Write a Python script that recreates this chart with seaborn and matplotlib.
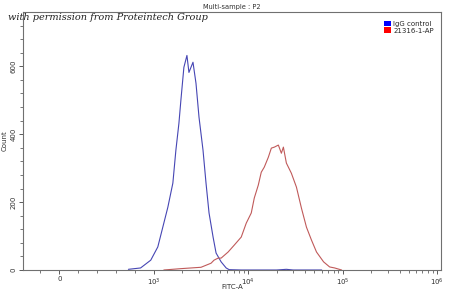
import matplotlib
matplotlib.use("Agg")
import matplotlib.pyplot as plt
from matplotlib.patches import Patch
from matplotlib.ticker import FixedLocator
import seaborn as sns
import pandas as pd

# ---- data ----
igg_fitc = [731, 860, 968, 1103, 1277, 1409, 1592, 1714, 1845, 1936, 2083, 2244,
            2356, 2600, 2798, 3012, 3321, 3573, 3846, 4245, 4566, 5164, 5838,
            6281, 8433, 20000, 25350, 30000, 60000]
igg_count = [2, 6, 29, 68, 138, 185, 256, 353, 432, 500, 597, 632,
             582, 612, 550, 450, 353, 256, 168, 97, 50, 24, 6,
             1, 0, 0, 2, 0, 0]

ab_fitc = [1277, 1936, 3162, 4038, 4345, 4797, 5164, 6124, 7096, 8433, 9530,
           10770, 11590, 12780, 13740, 14790, 16320, 17570, 18920, 20850,
           22440, 23570, 25350, 28640, 32410, 36620, 41380, 46770, 52850,
           62800, 72780, 82270, 97500]
ab_count = [0, 4, 8, 20, 29, 35, 35, 53, 73, 97, 138,
            168, 212, 250, 288, 303, 332, 359, 362, 368,
            344, 362, 315, 285, 244, 182, 126, 88, 53,
            24, 9, 6, 0]

series_names = ["IgG control", "21316-1-AP"]
x_major = [0, 1e3, 1e4, 1e5, 1e6]
x_major_labels = ["0", "10$^3$", "10$^4$", "10$^5$", "10$^6$"]
y_major = [0, 200, 400, 600]

sns.set_style("white")
plt.rcParams['font.family'] = ['DejaVu Sans']
plt.rcParams['mathtext.fontset'] = 'dejavusans'

fig = plt.figure(figsize=(4.5, 2.92), dpi=100)
ax = fig.add_axes([23/450, 22/292, (441-23)/450, (270-12)/292])

df1 = pd.DataFrame({"FITC-A": igg_fitc, "Count": igg_count})
df2 = pd.DataFrame({"FITC-A": ab_fitc, "Count": ab_count})
sns.lineplot(data=df1, x="FITC-A", y="Count", ax=ax, color="#4646b4", linewidth=0.8, sort=False)
sns.lineplot(data=df2, x="FITC-A", y="Count", ax=ax, color="#c05a5a", linewidth=0.8, sort=False)

ax.set_xscale("symlog", linthresh=1000, linscale=0.9)
ax.set_xlim(-385, 1.1e6)
ax.set_ylim(0, 760)

ax.xaxis.set_major_locator(FixedLocator(x_major))
ax.set_xticklabels(x_major_labels)
minors = [-400, -200, 200, 400, 600, 800]
for d in [1e3, 1e4, 1e5]:
    minors += [m * d for m in range(2, 10)]
ax.xaxis.set_minor_locator(FixedLocator(minors))
ax.yaxis.set_major_locator(FixedLocator(y_major))
ax.yaxis.set_minor_locator(FixedLocator([v for v in range(40, 760, 40) if v % 200]))

for s in ax.spines.values():
    s.set_color("#707070")
    s.set_linewidth(0.8)

ax.tick_params(axis="both", which="major", direction="out", length=3, width=0.6,
               color="#404040", labelsize=5, labelcolor="#303030", pad=1.5)
ax.tick_params(axis="both", which="minor", direction="out", length=2, width=0.5,
               color="#404040")
ax.tick_params(axis="x", which="both", bottom=True)
ax.tick_params(axis="y", which="both", left=True)
for lab in ax.get_yticklabels():
    lab.set_rotation(90)
    lab.set_va("center")

ax.set_xlabel("FITC-A", fontsize=5, color="#303030")
ax.xaxis.set_label_coords(0.5, -17/258)
ax.xaxis.label.set_va("center")
ax.set_ylabel("Count", fontsize=5, color="#303030")
ax.yaxis.set_label_coords(-18/418, 0.5)
ax.yaxis.label.set_va("center")
ax.set_title("Multi-sample : P2", fontsize=4.8, color="#303030", pad=2.5)

handles = [Patch(facecolor="#0000ff", edgecolor="none"),
           Patch(facecolor="#ff0000", edgecolor="none")]
ax.legend(handles, series_names, loc="upper right", bbox_to_anchor=(0.995, 0.985),
          frameon=False, fontsize=5, handlelength=0.9, handleheight=0.9,
          handletextpad=0.4, labelspacing=0.05, borderpad=0.2)

fig.text(8/450, 1 - 17/292, "with permission from Proteintech Group",
         fontsize=7, family="DejaVu Serif", style="italic", color="#202020",
         va="center", ha="left")

fig.savefig("out.png", dpi=100)
